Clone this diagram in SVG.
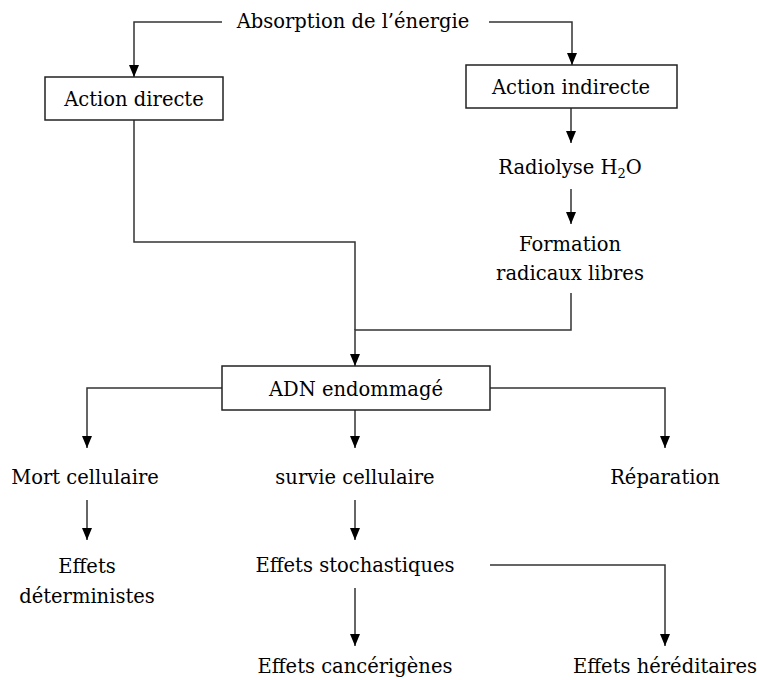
<svg xmlns="http://www.w3.org/2000/svg" width="757" height="680" viewBox="0 0 757 680">
<defs>
<marker id="ah" viewBox="0 0 12 10" refX="12" refY="5" markerWidth="12" markerHeight="10" markerUnits="userSpaceOnUse" orient="auto">
<path d="M0,0 L12,5 L0,10 Z" fill="#000"/>
</marker>
<style>
text{font-family:"DejaVu Serif","Liberation Serif",serif;font-size:19.5px;fill:#000;text-anchor:middle}
.box{fill:#fff;stroke:#222;stroke-width:1.5}
.c{fill:none;stroke:#333;stroke-width:1.5}
.a{marker-end:url(#ah)}
</style>
</defs>
<rect width="757" height="680" fill="#fff"/>
<g id="connectors">
<path class="c a" d="M222,22 H134 V77"/>
<path class="c a" d="M489,22 H572 V65"/>
<path class="c a" d="M571,108 V143"/>
<path class="c a" d="M571,189 V224"/>
<path class="c" d="M134,120 V242 H355 V330"/>
<path class="c a" d="M571,293 V330 H355 V366"/>
<path class="c a" d="M222,388 H87 V448"/>
<path class="c a" d="M355,410 V448"/>
<path class="c a" d="M490,388 H665 V448"/>
<path class="c a" d="M87,500 V540"/>
<path class="c a" d="M355,500 V540"/>
<path class="c a" d="M355,588 V646"/>
<path class="c a" d="M490,565 H665 V646"/>
</g>
<g id="absorption"><text x="353" y="28">Absorption de l’énergie</text></g>
<g id="action-directe"><rect class="box" x="45" y="77" width="178" height="43"/><text x="134" y="106">Action directe</text></g>
<g id="action-indirecte"><rect class="box" x="466" y="65" width="211" height="43"/><text x="571" y="94">Action indirecte</text></g>
<g id="radiolyse"><text x="570" y="174">Radiolyse H<tspan font-size="13" dy="4">2</tspan><tspan dy="-4">O</tspan></text></g>
<g id="radicaux"><text x="570" y="251">Formation</text><text x="570" y="280">radicaux libres</text></g>
<g id="adn"><rect class="box" x="222" y="366" width="268" height="44"/><text x="356" y="396">ADN endommagé</text></g>
<g id="mort"><text x="85" y="484">Mort cellulaire</text></g>
<g id="survie"><text x="355" y="484">survie cellulaire</text></g>
<g id="reparation"><text x="665" y="484">Réparation</text></g>
<g id="deterministes"><text x="87" y="573">Effets</text><text x="87" y="603">déterministes</text></g>
<g id="stochastiques"><text x="355" y="572">Effets stochastiques</text></g>
<g id="cancerigenes"><text x="355" y="673">Effets cancérigènes</text></g>
<g id="hereditaires"><text x="665" y="673">Effets héréditaires</text></g>
</svg>
